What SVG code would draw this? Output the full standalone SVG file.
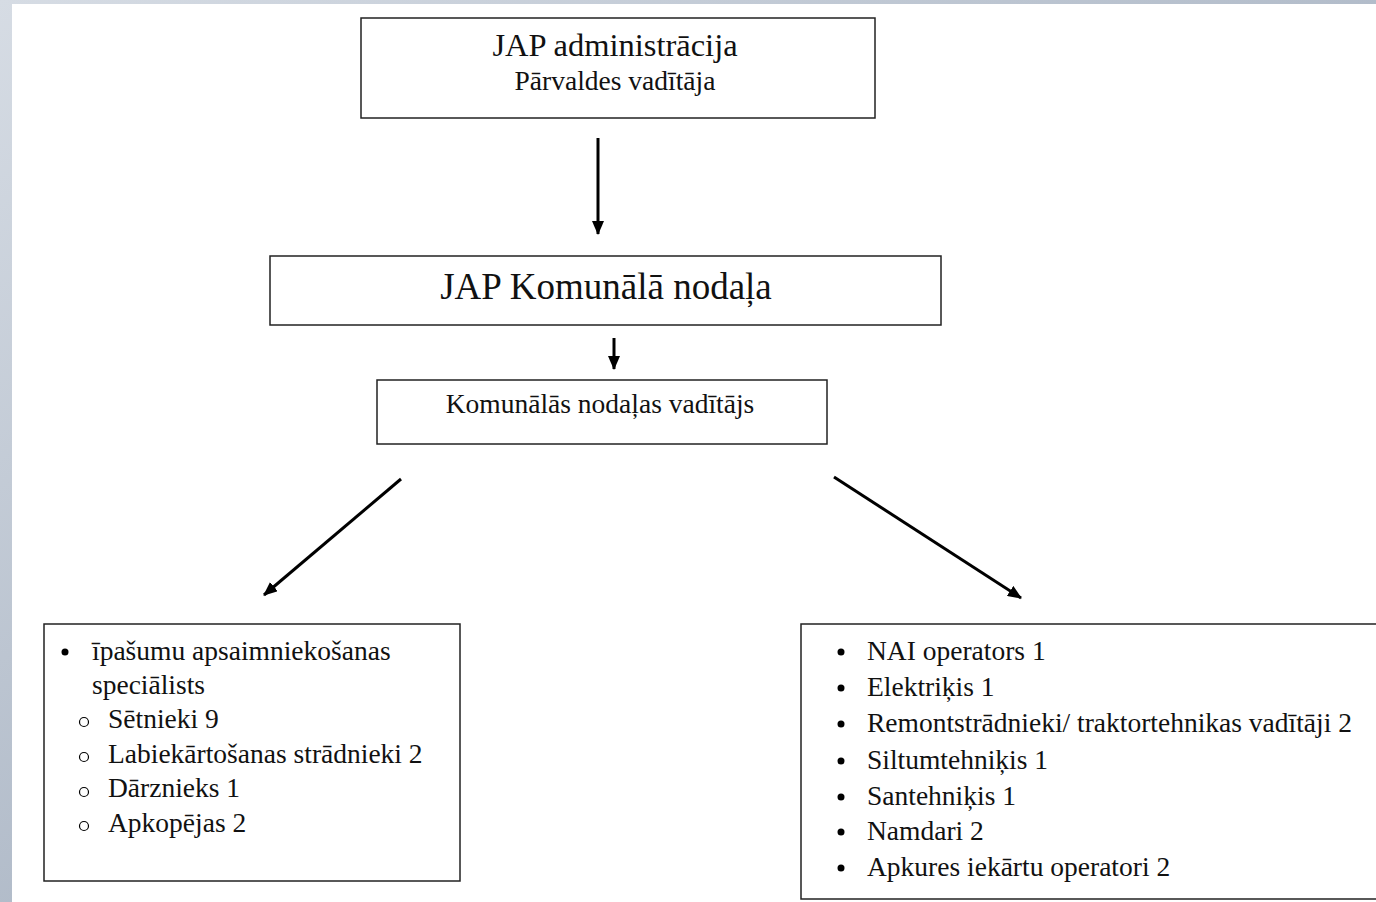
<svg xmlns="http://www.w3.org/2000/svg" width="1376" height="902" viewBox="0 0 1376 902">
<defs>
<linearGradient id="bg" x1="0" y1="0" x2="1" y2="1">
<stop offset="0" stop-color="#d6dce4"/>
<stop offset="1" stop-color="#8f9db0"/>
</linearGradient>
<marker id="ah" markerWidth="14" markerHeight="12" refX="13" refY="6" orient="auto" markerUnits="userSpaceOnUse">
<path d="M0,0 L14,6 L0,12 Z" fill="#000"/>
</marker>
<style>
.box{fill:#fff;stroke:#222;stroke-width:1.5}
.t{font-family:"Liberation Serif","Times New Roman",serif;fill:#111;font-size:27.5px}
.c{text-anchor:middle}
.conn line{stroke:#000;stroke-width:3;marker-end:url(#ah)}
</style>
</defs>
<rect x="0" y="0" width="1376" height="902" fill="url(#bg)"/>
<rect x="12" y="4" width="1364" height="898" fill="#fff"/>

<g id="admin">
<rect class="box" x="361" y="18" width="514" height="100"/>
<text class="t c" x="615" y="56" style="font-size:32.5px">JAP administrācija</text>
<text class="t c" x="615" y="90">Pārvaldes vadītāja</text>
</g>

<g id="komunala">
<rect class="box" x="270" y="256" width="671" height="69"/>
<text class="t c" x="606" y="299" style="font-size:37px">JAP Komunālā nodaļa</text>
</g>

<g id="vaditajs">
<rect class="box" x="377" y="380" width="450" height="64"/>
<text class="t c" x="600" y="413">Komunālās nodaļas vadītājs</text>
</g>

<g id="left-list">
<rect class="box" x="44" y="624" width="416" height="257"/>
<circle cx="65" cy="652" r="3.5" fill="#000"/>
<text class="t" x="92" y="660">īpašumu apsaimniekošanas</text>
<text class="t" x="92" y="694">speciālists</text>
<g fill="none" stroke="#000" stroke-width="1.2">
<circle cx="84" cy="722" r="4.5"/>
<circle cx="84" cy="757" r="4.5"/>
<circle cx="84" cy="792" r="4.5"/>
<circle cx="84" cy="826" r="4.5"/>
</g>
<text class="t" x="108" y="728">Sētnieki 9</text>
<text class="t" x="108" y="763">Labiekārtošanas strādnieki 2</text>
<text class="t" x="108" y="797">Dārznieks 1</text>
<text class="t" x="108" y="832">Apkopējas 2</text>
</g>

<g id="right-list">
<rect class="box" x="801" y="624" width="590" height="275"/>
<g fill="#000">
<circle cx="841" cy="652" r="3.5"/>
<circle cx="841" cy="688" r="3.5"/>
<circle cx="841" cy="724" r="3.5"/>
<circle cx="841" cy="761" r="3.5"/>
<circle cx="841" cy="797" r="3.5"/>
<circle cx="841" cy="832" r="3.5"/>
<circle cx="841" cy="868" r="3.5"/>
</g>
<text class="t" x="867" y="660">NAI operators 1</text>
<text class="t" x="867" y="696">Elektriķis 1</text>
<text class="t" x="867" y="732">Remontstrādnieki/ traktortehnikas vadītāji 2</text>
<text class="t" x="867" y="769">Siltumtehniķis 1</text>
<text class="t" x="867" y="805">Santehniķis 1</text>
<text class="t" x="867" y="840">Namdari 2</text>
<text class="t" x="867" y="876">Apkures iekārtu operatori 2</text>
</g>

<g id="connectors" class="conn">
<line x1="598" y1="138" x2="598" y2="234"/>
<line x1="614" y1="338" x2="614" y2="369"/>
<line x1="401" y1="479" x2="264" y2="595"/>
<line x1="834" y1="477" x2="1021" y2="598"/>
</g>
</svg>
